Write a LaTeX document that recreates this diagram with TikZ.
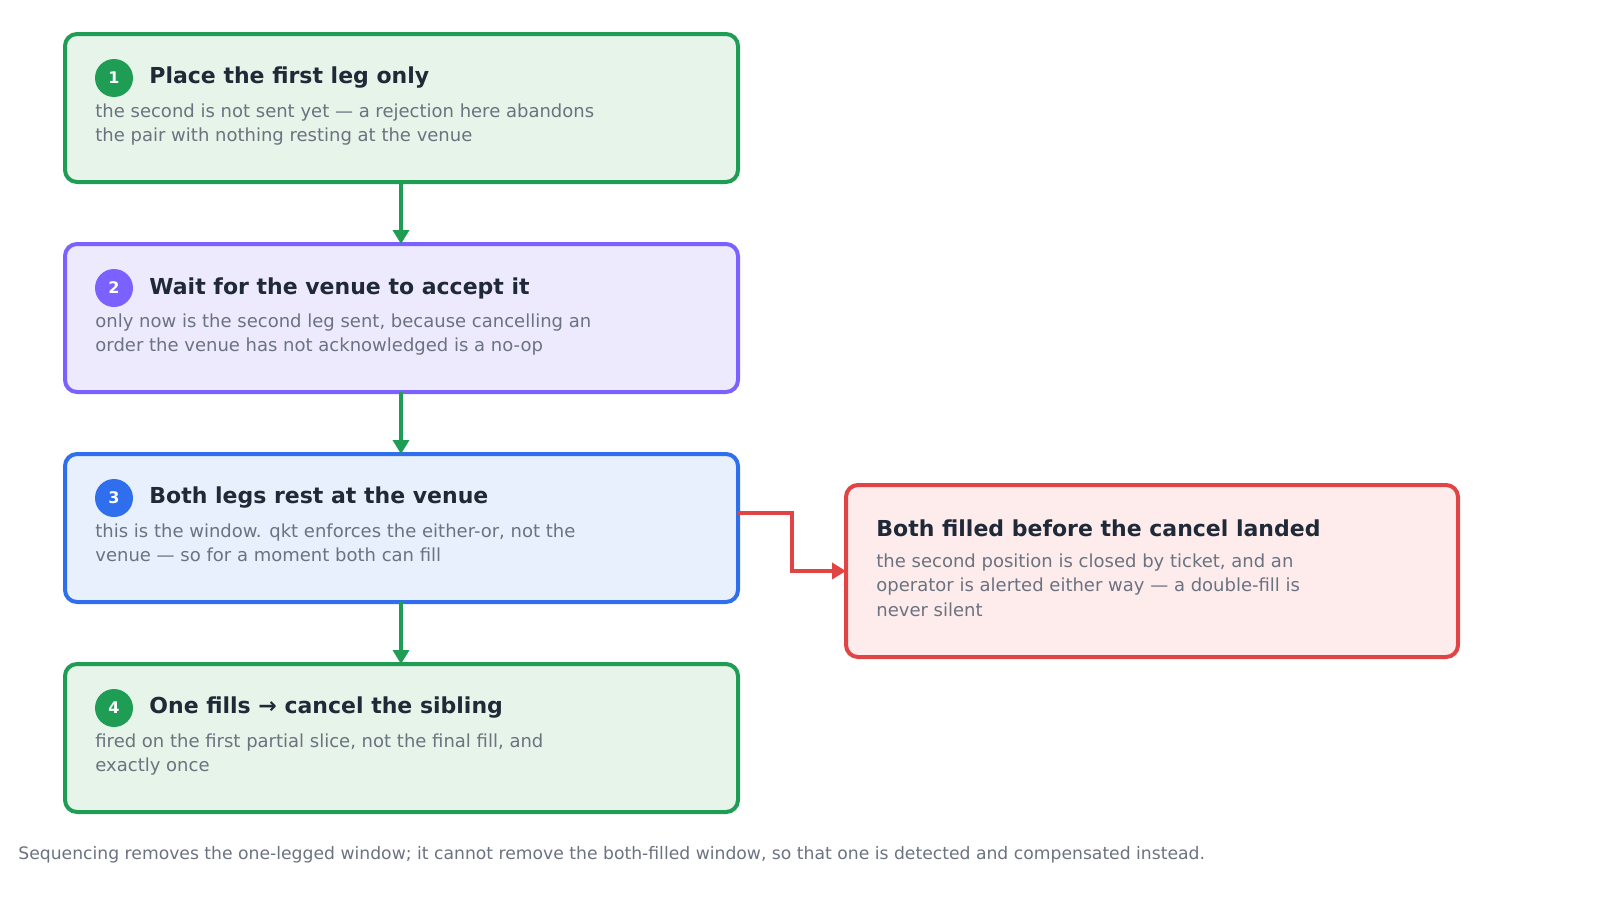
\documentclass[tikz,border=0pt]{standalone}
\usepackage{fontspec}
\setmainfont{DejaVu Sans}
\usetikzlibrary{arrows.meta}
\definecolor{gS}{HTML}{1F9D55}\definecolor{gF}{HTML}{E7F4E9}
\definecolor{pS}{HTML}{7B61FF}\definecolor{pF}{HTML}{EEEAFE}
\definecolor{bS}{HTML}{2F6FED}\definecolor{bF}{HTML}{E8F0FE}
\definecolor{rS}{HTML}{E04444}\definecolor{rF}{HTML}{FDECEB}
\definecolor{tT}{HTML}{1F2937}\definecolor{tB}{HTML}{6B7280}
\begin{document}
\begin{tikzpicture}[x=0.5pt,y=-0.5pt,
 box/.style={draw=#1S,fill=#1F,line width=2pt,rounded corners=6pt},
 num/.style={circle,fill=#1S,text=white,minimum size=19pt,inner sep=0,font=\bfseries\fontsize{8}{8}\selectfont},
 ttl/.style={anchor=west,text=tT,font=\bfseries\fontsize{11}{13}\selectfont,inner sep=0},
 bdy/.style={anchor=north west,text=tB,font=\fontsize{9}{12.4}\selectfont,inner sep=0,align=left},
 arr/.style={draw=#1S,line width=1.8pt,-{Triangle[length=7pt,width=8pt]}}]
\useasboundingbox (0,0) rectangle (1600,910);
\draw[box=g] (65,34) rectangle (738,182) coordinate(b1);
\node[num=g] (n1) at (114,78) {1};
\node[ttl] (t1) at (149,78) {Place the first leg only};
\node[bdy] (d1) at (95,103) {the second is not sent yet — a rejection here abandons\\the pair with nothing resting at the venue};
\draw[box=p] (65,244) rectangle (738,392);
\node[num=p] (n2) at (114,288) {2};
\node[ttl] (t2) at (149,288) {Wait for the venue to accept it};
\node[bdy] (d2) at (95,313) {only now is the second leg sent, because cancelling an\\order the venue has not acknowledged is a no-op};
\draw[box=b] (65,454) rectangle (738,602);
\node[num=b] (n3) at (114,498) {3};
\node[ttl] (t3) at (149,498) {Both legs rest at the venue};
\node[bdy] (d3) at (95,523) {this is the window. qkt enforces the either-or, not the\\venue — so for a moment both can fill};
\draw[box=g] (65,664) rectangle (738,812);
\node[num=g] (n4) at (114,708) {4};
\node[ttl] (t4) at (149,708) {One fills → cancel the sibling};
\node[bdy] (d4) at (95,733) {fired on the first partial slice, not the final fill, and\\exactly once};
\draw[box=r] (846,485) rectangle (1458,657);
\node[ttl] (t5) at (876,528) {Both filled before the cancel landed};
\node[bdy] (d5) at (876,553) {the second position is closed by ticket, and an\\operator is alerted either way — a double-fill is\\never silent};
\coordinate (a1) at (401,182); \coordinate (a2) at (401,244);
\coordinate (a3) at (401,392); \coordinate (a4) at (401,454);
\coordinate (a5) at (401,602); \coordinate (a6) at (401,664);
\coordinate (r1) at (738,513); \coordinate (r2) at (846,571);
\draw[arr=g] (a1) -- (a2);
\draw[arr=g] (a3) -- (a4);
\draw[arr=g] (a5) -- (a6);
\draw[arr=r] (r1) -- (792,513) -- (792,571) -- (r2);
\node[anchor=west,text=tB,font=\fontsize{8.6}{10}\selectfont,inner sep=0] (f) at (18,855) {Sequencing removes the one-legged window; it cannot remove the both-filled window, so that one is detected and compensated instead.};
\end{tikzpicture}
\end{document}
